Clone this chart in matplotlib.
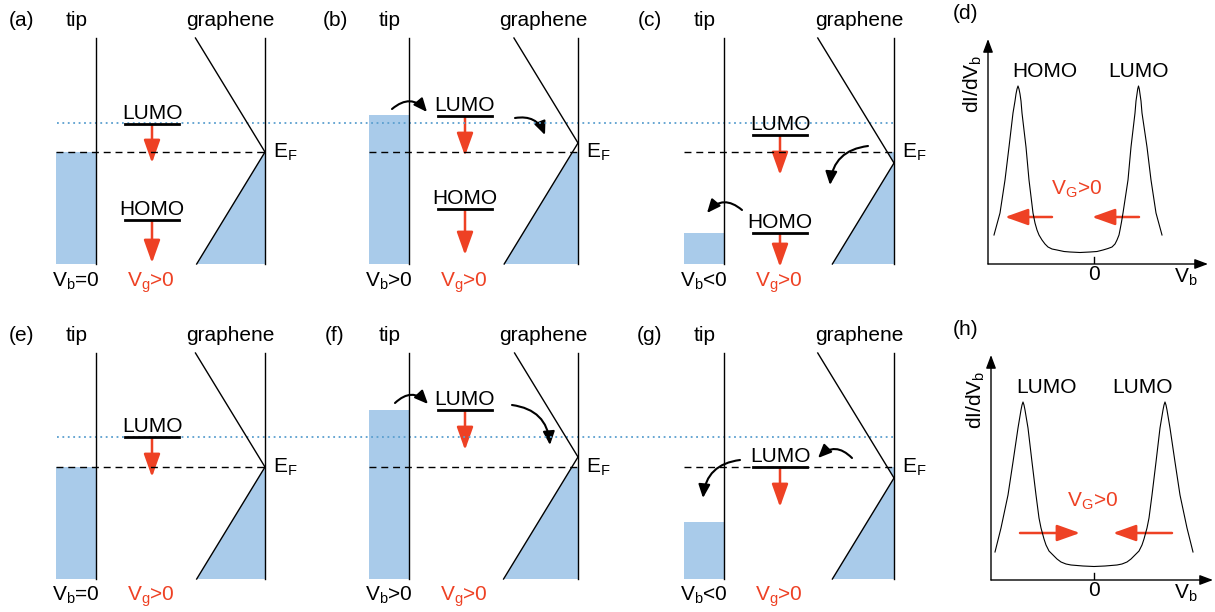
import matplotlib
matplotlib.use("Agg")
import matplotlib.pyplot as plt
from matplotlib.patches import FancyArrowPatch

plt.rcParams['font.family'] = ['Liberation Sans', 'DejaVu Sans']
plt.rcParams['mathtext.fontset'] = 'custom'
plt.rcParams['mathtext.rm'] = 'Liberation Sans'
plt.rcParams['mathtext.it'] = 'Liberation Sans:italic'
plt.rcParams['mathtext.default'] = 'regular'

BLUE = '#a9cbea'
DOT_BLUE = '#5b9fcf'
RED = '#ee4124'
FS = 15

# band diagrams (a)(b)(c)(e)(f)(g): energies relative to E_F, up = +
labels = ['(a)', '(b)', '(c)', '(e)', '(f)', '(g)']
tip_fill = [0, 37, -81, 0, 57, -55]
dirac_pt = [0, 9, -11, 0, 10, -11]
lumo_E = [28, 36, 17, 30, 57, 0]
homo_E = [-68, -57, -81, None, None, None]
lumo_drop = [39, 40, 40, 40, 40, 40]
homo_drop = [43, 46, 34, 0, 0, 0]
vb_labels = ['V$_b$=0', 'V$_b$>0', 'V$_b$<0', 'V$_b$=0', 'V$_b$>0', 'V$_b$<0']
dotted_E = [29, 30]
# tunnelling arrows: (x0, E0, x1, E1, curvature), x relative to tip line
tunnel = [
    [],
    [(-17, 43, 18, 40, -0.5), (106, 34, 136, 17, -0.4)],
    [(144, 6, 106, -33, 0.4), (18, -58, -17, -61, 0.5)],
    [],
    [(-14, 64, 19, 63, -0.5), (103, 62, 141, 22, -0.4)],
    [(128, 9, 94, 9, 0.5), (16, 7, -21, -31, 0.4)],
]

# dI/dV sketches (d) and (h)
spec_d_x = [-100, -97, -94, -89, -85, -81, -79, -78, -77, -76, -75, -74, -73, -72, -68, -65, -61, -59,
            -57, -55, -52, -49, -46, -42, -37, -30, -24, -14, -4, 3, 9, 14, 18, 21, 23, 25, 26, 27.5,
            29, 34, 37, 41, 42, 43, 43.7, 44.5, 45.3, 46, 47, 48, 53, 57, 62, 65, 68]
spec_d_y = [29, 40, 51, 84, 117, 151, 163, 170, 175, 178, 175, 170, 163, 151, 117, 84, 51, 41,
            34, 29, 24, 20, 17, 15, 14, 12.5, 12, 11.5, 12, 12.5, 14, 15.5, 17, 20, 24, 29, 34, 42,
            51, 84, 117, 151, 163, 170, 175, 178, 175, 170, 163, 151, 117, 84, 51, 40, 29]
spec_h_x = [-99, -96, -93, -86, -81, -76, -74, -73, -72, -71, -70, -69, -68, -66, -62, -58, -55, -53,
            -50, -48, -45, -41, -37, -33, -28, -23, -11, 0, 11, 23, 28, 33, 37, 41, 45, 48, 50, 53,
            55, 58, 62, 66, 68, 69, 70, 71, 72, 73, 74, 76, 81, 86, 93, 96, 99]
spec_h_y = [28, 40, 52, 85, 118, 152, 164, 170, 175, 178, 175, 170, 164, 152, 118, 85, 62, 52,
            41, 35, 29, 25, 21, 18, 16, 15, 14, 13.5, 14, 15, 16, 18, 21, 25, 29, 35, 41, 52,
            62, 85, 118, 152, 164, 170, 175, 178, 175, 170, 164, 152, 118, 85, 52, 40, 28]
peak_names_d = ['HOMO', 'LUMO']
peak_names_h = ['LUMO', 'LUMO']
shift_d = [(-42, -89), (45, -2)]
shift_h = [(-74, -14), (78, 19)]

# layout (pixels)
TIP_X = [96, 409, 724]
GR_X = [265, 578, 894]
EF_Y = [152, 467]
E_TOP, E_BOT = 114, -112
CONE = 0.61
TIP_W = 40
LVL_DX, LVL_HW = 56, 27

fig = plt.figure(figsize=(12.15, 6.12), dpi=100)
ax = fig.add_axes([0, 0, 1, 1])
ax.set_xlim(0, 1215)
ax.set_ylim(612, 0)
ax.axis('off')


def arrow(a, p0, p1, color, lw, hl, hw, rad=0.0):
    a.add_patch(FancyArrowPatch(p0, p1, connectionstyle=f'arc3,rad={rad}',
                                arrowstyle=f'-|>,head_length={hl},head_width={hw}',
                                mutation_scale=10, lw=lw, color=color,
                                shrinkA=0, shrinkB=0, clip_on=False))


for row in range(2):
    ef = EF_Y[row]
    ax.plot([57, GR_X[2]], [ef - dotted_E[row]] * 2, ls=(0, (1, 2)), color=DOT_BLUE, lw=1.3)

for i in range(6):
    row, col = divmod(i, 3)
    tx, gx, ef = TIP_X[col], GR_X[col], EF_Y[row]
    Y = lambda e: ef - e
    # tip
    ax.fill_between([tx - TIP_W, tx], Y(tip_fill[i]), Y(E_BOT), color=BLUE, lw=0)
    ax.plot([tx, tx], [Y(E_TOP), Y(E_BOT)], color='k', lw=1)
    # graphene cone
    ed = dirac_pt[i]
    fx = [gx - CONE * abs(ed), gx, gx, gx - CONE * (ed - E_BOT)]
    fy = [Y(0), Y(0), Y(E_BOT), Y(E_BOT)]
    if ed < 0:
        fx.append(gx)
        fy.append(Y(ed))
    ax.fill(fx, fy, color=BLUE, lw=0)
    ax.plot([gx - CONE * (E_TOP - ed), gx, gx - CONE * (ed - E_BOT)],
            [Y(E_TOP), Y(ed), Y(E_BOT)], color='k', lw=1)
    ax.plot([gx, gx], [Y(E_TOP), Y(E_BOT)], color='k', lw=1)
    ax.plot([tx - TIP_W, gx], [ef, ef], color='k', lw=1, ls=(0, (5, 3.5)))
    # molecular levels
    cx = tx + LVL_DX
    for name, lev, drop in [('LUMO', lumo_E[i], lumo_drop[i]), ('HOMO', homo_E[i], homo_drop[i])]:
        if lev is None:
            continue
        ax.plot([cx - LVL_HW, cx + LVL_HW], [Y(lev)] * 2, color='k', lw=2)
        ax.text(cx, Y(lev) - 5, name, ha='center', va='baseline', fontsize=FS)
        arrow(ax, (cx, Y(lev) + 1), (cx, Y(lev) + drop), RED, 1.8, 1.4, 0.5)
    for x0, e0, x1, e1, r in tunnel[i]:
        arrow(ax, (tx + x0, Y(e0)), (tx + x1, Y(e1)), 'k', 1.5, 0.8, 0.35, rad=r)
    # labels
    base = 26 + 315 * row
    ax.text(tx - 74, base, labels[i], ha='center', va='baseline', fontsize=FS)
    ax.text(tx - 19, base, 'tip', ha='center', va='baseline', fontsize=FS)
    ax.text(gx - 35, base, 'graphene', ha='center', va='baseline', fontsize=FS)
    ax.text(gx + 8, ef + 6, 'E$_F$', ha='left', va='baseline', fontsize=FS)
    ax.text(tx - 20, 287 + 314 * row, vb_labels[i], ha='center', va='baseline', fontsize=FS)
    ax.text(tx + 55, 287 + 314 * row, 'V$_g$>0', ha='center', va='baseline', fontsize=FS, color=RED)


def spectrum(ox, oy, xmax, sx, sy, names, name_x, shifts, label, vg_x, vg_y):
    x0 = ox - 1094
    s = fig.add_axes([ox / 1215, (612 - oy) / 612, (xmax - x0) / 1215, 225 / 612])
    s.set_xlim(x0, xmax)
    s.set_ylim(0, 225)
    s.axis('off')
    s.patch.set_alpha(0)
    arrow(s, (x0, 0), (xmax, 0), 'k', 1, 0.8, 0.3)
    arrow(s, (x0, 0), (x0, 225), 'k', 1, 0.8, 0.3)
    s.plot([0, 0], [0, 7], color='k', lw=1)
    s.plot(sx, sy, color='k', lw=0.8)
    for n, nx in zip(names, name_x):
        s.text(nx, 187, n, ha='center', va='baseline', fontsize=FS)
    for a0, a1 in shifts:
        arrow(s, (a0, 47), (a1, 47), RED, 1.8, 1.4, 0.5)
    s.text(vg_x, vg_y, 'V$_G$>0', ha='center', va='baseline', fontsize=FS, color=RED)
    s.text(0, -11, '0', ha='center', va='center', fontsize=FS)
    s.text(92, -19, 'V$_b$', ha='center', va='baseline', fontsize=FS)
    s.text(x0 - 15, 180, 'dI/dV$_b$', ha='center', va='center', rotation=90, fontsize=FS)
    ax.text(953, oy - 245, label, ha='left', va='baseline', fontsize=FS)


spectrum(988, 264, 114, spec_d_x, spec_d_y, peak_names_d, [-49, 45], shift_d, '(d)', -17, 69)
spectrum(991, 580, 119, spec_h_x, spec_h_y, peak_names_h, [-47, 48], shift_h, '(h)', -1, 73)

fig.savefig('out.png', dpi=100)
